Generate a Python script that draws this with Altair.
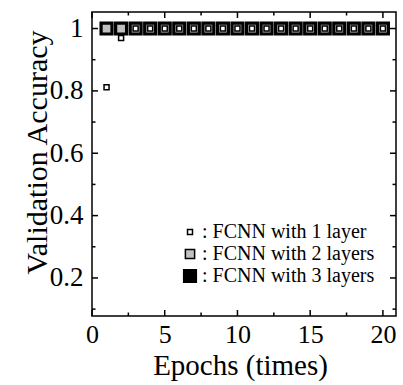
import altair as alt
import pandas as pd

# ---- data ----
epochs = [1, 2, 3, 4, 5, 6, 7, 8, 9, 10, 11, 12, 13, 14, 15, 16, 17, 18, 19, 20]
acc_1layer = [0.812, 0.97, 1.0, 1.0, 1.0, 1.0, 1.0, 1.0, 1.0, 1.0,
              1.0, 1.0, 1.0, 1.0, 1.0, 1.0, 1.0, 1.0, 1.0, 1.0]
acc_2layer = [1.0, 1.0, 1.0, 1.0, 1.0, 1.0, 1.0, 1.0, 1.0, 1.0,
              1.0, 1.0, 1.0, 1.0, 1.0, 1.0, 1.0, 1.0, 1.0, 1.0]
acc_3layer = [1.0, 1.0, 1.0, 1.0, 1.0, 1.0, 1.0, 1.0, 1.0, 1.0,
              1.0, 1.0, 1.0, 1.0, 1.0, 1.0, 1.0, 1.0, 1.0, 1.0]
series_names = ["FCNN with 1 layer", "FCNN with 2 layers", "FCNN with 3 layers"]

x_major_ticks = [0, 5, 10, 15, 20]
x_minor_ticks = [2.5, 7.5, 12.5, 17.5]
y_major_ticks = [0.2, 0.4, 0.6, 0.8, 1.0]
y_minor_ticks = [0.1, 0.3, 0.5, 0.7, 0.9]

# ---- build table (draw order: 3 layers first, then 2, then 1 on top) ----
rows = []
for name, vals in [(series_names[2], acc_3layer), (series_names[1], acc_2layer), (series_names[0], acc_1layer)]:
    for e, v in zip(epochs, vals):
        rows.append({"epoch": e, "acc": v, "series": name})
df = pd.DataFrame(rows)

W, H = 304, 304
FONT = "Liberation Serif"
MAJ, MIN = 6, 3.5

xs = alt.Scale(domain=[0, 20.9], nice=False, zero=False)
ys = alt.Scale(domain=[0.078, 1.053], nice=False, zero=False)

xaxis = alt.Axis(
    values=x_major_ticks, title="Epochs (times)", ticks=False, domain=False, grid=False,
    labelFont=FONT, labelFontSize=26, labelColor="black", labelPadding=26,
    labelBaseline="alphabetic", labelFlush=False,
    titleFont=FONT, titleFontSize=29, titleFontWeight="normal", titleColor="black",
    titleX=148, titleY=58, titleBaseline="alphabetic", titleAlign="center")
yaxis = alt.Axis(
    values=y_major_ticks, title="Validation Accuracy", ticks=False, domain=False, grid=False,
    format="~g", labelFont=FONT, labelFontSize=27, labelColor="black", labelPadding=9,
    labelFlush=False,
    titleFont=FONT, titleFontSize=30, titleFontWeight="normal", titleColor="black",
    titleX=-46, titleY=140, titleAngle=-90, titleBaseline="alphabetic", titleAlign="center")

legend = alt.Legend(
    title=None, orient="none", legendX=88, legendY=210,
    labelFont=FONT, labelFontSize=20, labelColor="black", labelLimit=0,
    labelExpr="': ' + datum.label", labelOffset=2,
    symbolType="square", symbolStrokeColor="black", symbolStrokeWidth=1.5,
    symbolOpacity=1, rowPadding=2, padding=0,
)

points = alt.Chart(df).mark_point(
    shape="square", filled=True, strokeWidth=1.5, opacity=1
).encode(
    x=alt.X("epoch:Q", scale=xs, axis=xaxis),
    y=alt.Y("acc:Q", scale=ys, axis=yaxis),
    fill=alt.Fill("series:N", scale=alt.Scale(type="ordinal", domain=series_names, range=["white", "#c0c0c0", "black"]), legend=legend),
    stroke=alt.Stroke("series:N", scale=alt.Scale(type="ordinal", domain=series_names, range=["black", "black", "black"]), legend=legend),
    size=alt.Size("series:N", scale=alt.Scale(type="ordinal", domain=series_names, range=[25, 85, 160]), legend=legend),
)


def xticks(vals, length):
    d = pd.DataFrame({"epoch": vals})
    base = alt.Chart(d).mark_rule(color="black", strokeWidth=1.5)
    bottom = base.encode(x=alt.X("epoch:Q", scale=xs, axis=xaxis), y=alt.value(H), y2=alt.value(H - length))
    top = base.encode(x=alt.X("epoch:Q", scale=xs, axis=xaxis), y=alt.value(0), y2=alt.value(length))
    return [bottom, top]


def yticks(vals, length):
    d = pd.DataFrame({"acc": vals})
    base = alt.Chart(d).mark_rule(color="black", strokeWidth=1.5)
    left = base.encode(y=alt.Y("acc:Q", scale=ys, axis=yaxis), x=alt.value(0), x2=alt.value(length))
    right = base.encode(y=alt.Y("acc:Q", scale=ys, axis=yaxis), x=alt.value(W), x2=alt.value(W - length))
    return [left, right]


layers = [points] + xticks(x_major_ticks, MAJ) + xticks(x_minor_ticks, MIN) + yticks(y_major_ticks, MAJ) + yticks(y_minor_ticks, MIN)

chart = alt.layer(*layers).properties(
    width=W, height=H,
    background="white",
    autosize=alt.AutoSizeParams(type="none"),
    padding={"left": 92, "top": 12, "right": 7, "bottom": 69},
).configure_view(stroke="black", strokeWidth=1.5)

chart.save("out.html", embed_options={"renderer": "svg", "actions": False})
